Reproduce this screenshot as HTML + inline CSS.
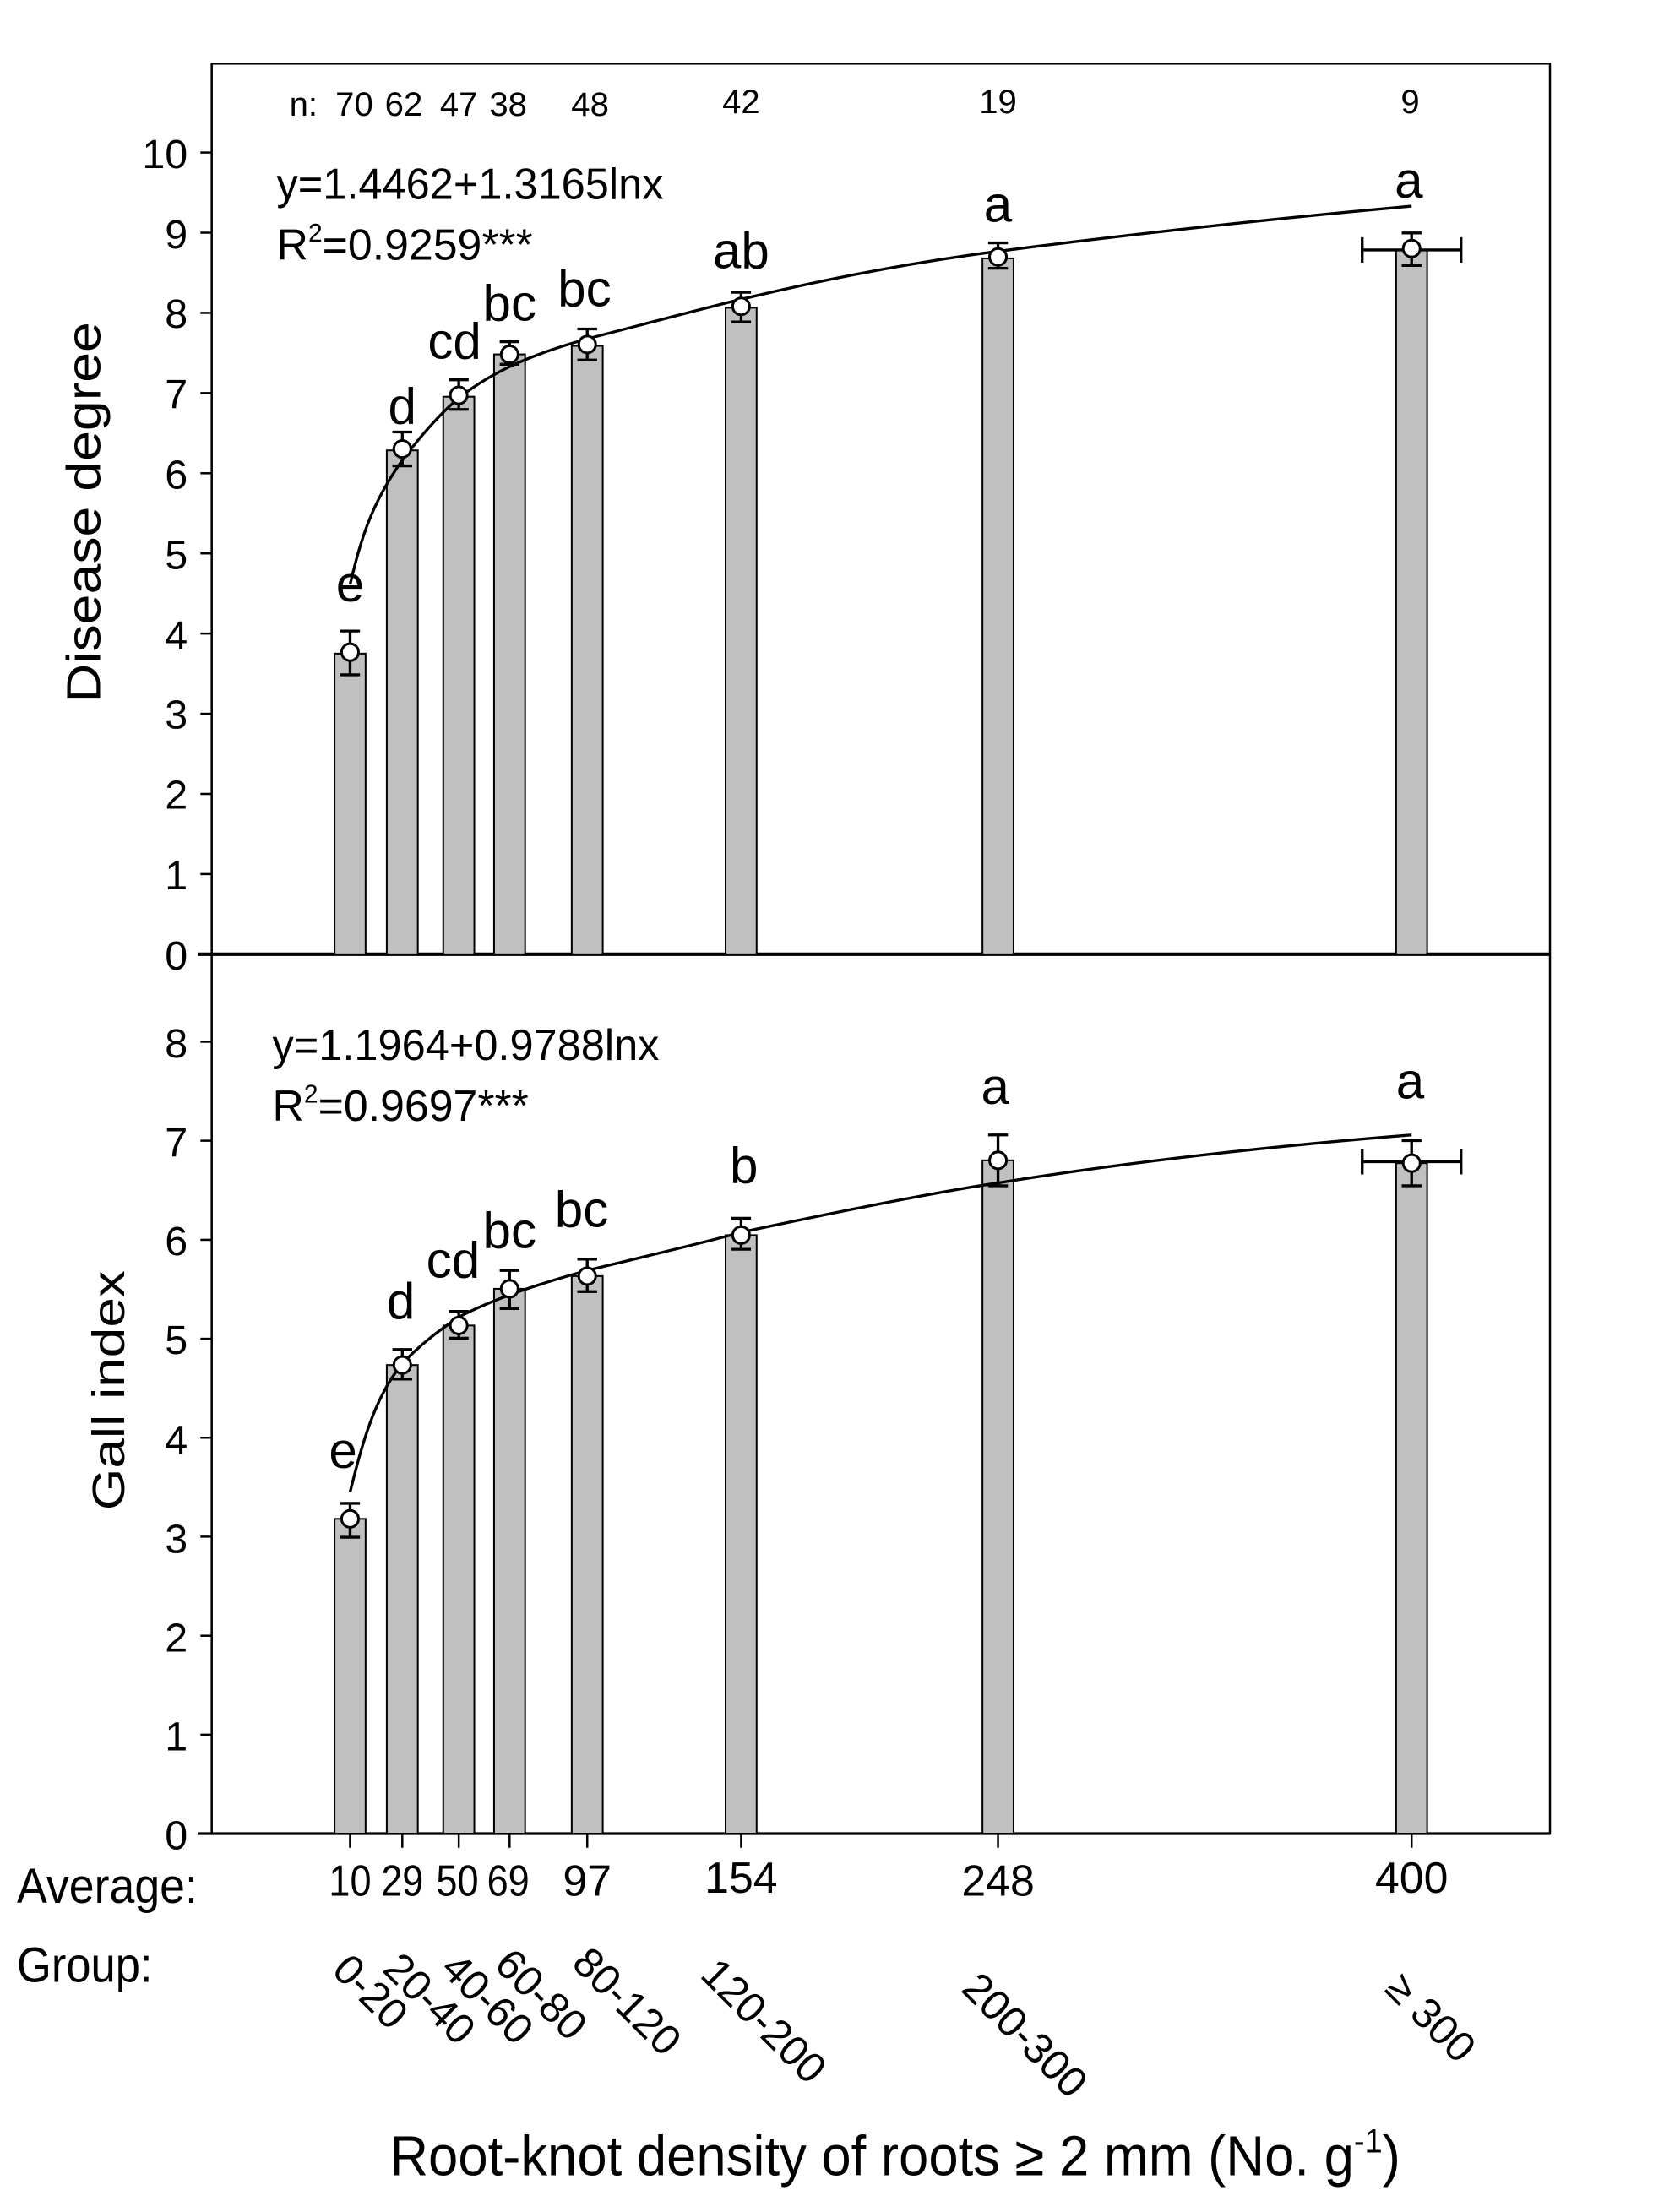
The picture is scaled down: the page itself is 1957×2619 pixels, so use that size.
<!DOCTYPE html>
<html><head><meta charset="utf-8"><style>
html,body{margin:0;padding:0;background:#fff}
svg{display:block}
text{font-family:"Liberation Sans",sans-serif;fill:#000}
</style></head><body>
<svg width="1957" height="2619" viewBox="0 0 1171 1567" xmlns="http://www.w3.org/2000/svg">
<rect x="0" y="0" width="1171" height="1567" fill="#fff"/>
<rect x="150" y="45" width="948" height="1254" fill="none" stroke="#000" stroke-width="1.5"/>
<line x1="140" y1="676" x2="1098" y2="676" stroke="#000" stroke-width="2.5"/>
<line x1="140" y1="1299" x2="1098" y2="1299" stroke="#000" stroke-width="2"/>
<g stroke="#000" stroke-width="1.5">
<line x1="142" y1="676" x2="150" y2="676"/><line x1="142" y1="619.2" x2="150" y2="619.2"/>
<line x1="142" y1="562.4" x2="150" y2="562.4"/><line x1="142" y1="505.6" x2="150" y2="505.6"/>
<line x1="142" y1="448.8" x2="150" y2="448.8"/><line x1="142" y1="392" x2="150" y2="392"/>
<line x1="142" y1="335.2" x2="150" y2="335.2"/><line x1="142" y1="278.4" x2="150" y2="278.4"/>
<line x1="142" y1="221.6" x2="150" y2="221.6"/><line x1="142" y1="164.8" x2="150" y2="164.8"/>
<line x1="142" y1="108" x2="150" y2="108"/>
<line x1="142" y1="1299" x2="150" y2="1299"/><line x1="142" y1="1228.9" x2="150" y2="1228.9"/>
<line x1="142" y1="1158.8" x2="150" y2="1158.8"/><line x1="142" y1="1088.6" x2="150" y2="1088.6"/>
<line x1="142" y1="1018.5" x2="150" y2="1018.5"/><line x1="142" y1="948.4" x2="150" y2="948.4"/>
<line x1="142" y1="878.3" x2="150" y2="878.3"/><line x1="142" y1="808.1" x2="150" y2="808.1"/>
<line x1="142" y1="738" x2="150" y2="738"/>
<line x1="248" y1="1299" x2="248" y2="1309"/><line x1="285" y1="1299" x2="285" y2="1309"/>
<line x1="325" y1="1299" x2="325" y2="1309"/><line x1="361" y1="1299" x2="361" y2="1309"/>
<line x1="416" y1="1299" x2="416" y2="1309"/><line x1="525" y1="1299" x2="525" y2="1309"/>
<line x1="707" y1="1299" x2="707" y2="1309"/><line x1="1000" y1="1299" x2="1000" y2="1309"/>
</g>
<g font-size="29" text-anchor="end">
<text x="133" y="687">0</text><text x="133" y="630">1</text><text x="133" y="573">2</text>
<text x="133" y="516">3</text><text x="133" y="460">4</text><text x="133" y="403">5</text>
<text x="133" y="346">6</text><text x="133" y="289">7</text><text x="133" y="232">8</text>
<text x="133" y="176">9</text><text x="133" y="119">10</text>
<text x="133" y="1310">0</text><text x="133" y="1240">1</text><text x="133" y="1170">2</text>
<text x="133" y="1100">3</text><text x="133" y="1030">4</text><text x="133" y="959">5</text>
<text x="133" y="889">6</text><text x="133" y="819">7</text><text x="133" y="749">8</text>
</g>
<text transform="translate(71,363) rotate(-90)" font-size="34" text-anchor="middle" textLength="270" lengthAdjust="spacingAndGlyphs">Disease degree</text>
<text transform="translate(88,985) rotate(-90)" font-size="32" text-anchor="middle" textLength="170" lengthAdjust="spacingAndGlyphs">Gall index</text>
<g font-size="24" text-anchor="middle">
<text x="215" y="82">n:</text><text x="251" y="82">70</text><text x="286" y="82">62</text>
<text x="325" y="82">47</text><text x="360" y="82">38</text><text x="418" y="82">48</text>
<text x="525" y="80">42</text><text x="707" y="80">19</text><text x="999" y="80">9</text>
</g>
<text x="196" y="141" font-size="31" textLength="274" lengthAdjust="spacingAndGlyphs">y=1.4462+1.3165lnx</text>
<text x="196" y="184" font-size="31">R<tspan font-size="18" dy="-13">2</tspan><tspan dy="13">=0.9259***</tspan></text>
<text x="193" y="751" font-size="31" textLength="274" lengthAdjust="spacingAndGlyphs">y=1.1964+0.9788lnx</text>
<text x="193" y="794" font-size="31">R<tspan font-size="18" dy="-13">2</tspan><tspan dy="13">=0.9697***</tspan></text>
<g fill="#c0c0c0" stroke="#000" stroke-width="1.2">
<rect x="237" y="463" width="22" height="213"/><rect x="274" y="319" width="22" height="357"/>
<rect x="314" y="281" width="22" height="395"/><rect x="350" y="251" width="22" height="425"/>
<rect x="405" y="245" width="22" height="431"/><rect x="514" y="218" width="22" height="458"/>
<rect x="696" y="183" width="22" height="493"/><rect x="989" y="177" width="22" height="499"/>
<rect x="237" y="1076" width="22" height="223"/><rect x="274" y="967" width="22" height="332"/>
<rect x="314" y="939" width="22" height="360"/><rect x="350" y="913" width="22" height="386"/>
<rect x="405" y="904" width="22" height="395"/><rect x="514" y="875" width="22" height="424"/>
<rect x="696" y="822" width="22" height="477"/><rect x="989" y="824" width="22" height="475"/>
</g>
<path fill="none" stroke="#000" stroke-width="2" d="M248,414 C255,385 262,358 285,326 C300,306 315,290 325,282 C350,262 380,250 416,240 C470,226 500,218 525,212 C600,194 660,184 707,178 C800,166 900,155 1000,146"/>
<path fill="none" stroke="#000" stroke-width="2" d="M248,1057 C256,1025 265,990 285,966 C300,950 315,940 325,933 C350,920 380,910 416,900 C470,887 500,880 525,873 C600,857 660,845 707,838 C800,823 900,812 1000,804"/>
<g stroke="#000" stroke-width="2" fill="none">
<path d="M248,447V478M241,447h14M241,478h14"/>
<path d="M285,306V330M278,306h14M278,330h14"/>
<path d="M325,269V290M318,269h14M318,290h14"/>
<path d="M361,242V258M354,242h14M354,258h14"/>
<path d="M416,233V255M409,233h14M409,255h14"/>
<path d="M525,207V228M518,207h14M518,228h14"/>
<path d="M707,172V190M700,172h14M700,190h14"/>
<path d="M1000,165V188M993,165h14M993,188h14M965,177H1035M965,168v18M1035,168v18"/>
<path d="M248,1065V1089M241,1065h14M241,1089h14"/>
<path d="M285,956V977M278,956h14M278,977h14"/>
<path d="M325,929V948M318,929h14M318,948h14"/>
<path d="M361,900V927M354,900h14M354,927h14"/>
<path d="M416,892V915M409,892h14M409,915h14"/>
<path d="M525,863V885M518,863h14M518,885h14"/>
<path d="M707,804V840M700,804h14M700,840h14"/>
<path d="M1000,808V840M993,808h14M993,840h14M965,823H1035M965,814v18M1035,814v18"/>
</g>
<g fill="#fff" stroke="#000" stroke-width="1.8">
<circle cx="248" cy="462" r="6"/><circle cx="285" cy="318" r="6"/><circle cx="325" cy="280" r="6"/>
<circle cx="361" cy="251" r="6"/><circle cx="416" cy="244" r="6"/><circle cx="525" cy="217" r="6"/>
<circle cx="707" cy="182" r="6"/><circle cx="1000" cy="176" r="6"/>
<circle cx="248" cy="1076" r="6"/><circle cx="285" cy="967" r="6"/><circle cx="325" cy="939" r="6"/>
<circle cx="361" cy="913" r="6"/><circle cx="416" cy="904" r="6"/><circle cx="525" cy="875" r="6"/>
<circle cx="707" cy="822" r="6"/><circle cx="1000" cy="824" r="6"/>
</g>
<g font-size="36" text-anchor="middle">
<text x="248" y="426">e</text><text x="285" y="300">d</text><text x="322" y="254">cd</text>
<text x="361" y="227">bc</text><text x="414" y="217">bc</text><text x="525" y="190">ab</text>
<text x="707" y="157">a</text><text x="998" y="140">a</text>
<text x="243" y="1040">e</text><text x="284" y="934">d</text><text x="321" y="905">cd</text>
<text x="361" y="884">bc</text><text x="412" y="869">bc</text><text x="527" y="838">b</text>
<text x="705" y="782">a</text><text x="999" y="778">a</text>
</g>
<g font-size="31" text-anchor="middle">
<text x="248" y="1343" textLength="30" lengthAdjust="spacingAndGlyphs">10</text><text x="285" y="1343" textLength="30" lengthAdjust="spacingAndGlyphs">29</text><text x="324" y="1343" textLength="30" lengthAdjust="spacingAndGlyphs">50</text>
<text x="360" y="1343" textLength="30" lengthAdjust="spacingAndGlyphs">69</text><text x="416" y="1343">97</text><text x="525" y="1341">154</text>
<text x="707" y="1343">248</text><text x="1000" y="1341">400</text>
</g>
<text x="12" y="1348" font-size="35" textLength="128" lengthAdjust="spacingAndGlyphs">Average:</text>
<text x="12" y="1404" font-size="35" textLength="96" lengthAdjust="spacingAndGlyphs">Group:</text>
<g font-size="30">
<text transform="translate(234,1397) rotate(45)">0-20</text>
<text transform="translate(270,1396) rotate(45)">20-40</text>
<text transform="translate(311,1396) rotate(45)">40-60</text>
<text transform="translate(349,1393) rotate(45)">60-80</text>
<text transform="translate(404,1392) rotate(45)">80-120</text>
<text transform="translate(495,1400) rotate(45)">120-200</text>
<text transform="translate(680,1410) rotate(45)">200-300</text>
<text transform="translate(980,1410) rotate(45)">≥ 300</text>
</g>
<text x="276" y="1541" font-size="40" textLength="716" lengthAdjust="spacingAndGlyphs">Root-knot density of roots ≥ 2 mm (No. g<tspan font-size="24" dy="-16">-1</tspan><tspan dy="16">)</tspan></text>
</svg>
</body></html>
